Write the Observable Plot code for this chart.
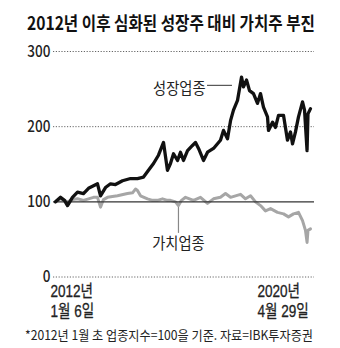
<!DOCTYPE html>
<html><head><meta charset="utf-8">
<script src="https://cdn.jsdelivr.net/npm/d3@7"></script>
<script src="https://cdn.jsdelivr.net/npm/@observablehq/plot@0.6"></script>
<style>
body{margin:0;background:#fff;width:340px;height:348px;overflow:hidden;position:relative;font-family:'Noto Sans CJK KR',sans-serif;}
#title{position:absolute;left:27px;top:13px;font-family:'Noto Sans CJK KR',sans-serif;font-weight:700;font-size:18px;line-height:18px;white-space:nowrap;transform-origin:0 50%;color:#111;}
#chart{position:absolute;left:0;top:36px;}
#note{position:absolute;left:25px;top:326px;font-size:13px;line-height:18px;white-space:nowrap;transform-origin:0 50%;color:#222;}
</style></head><body>
<div id="title">2012년 이후 심화된 성장주 대비 가치주 부진</div>
<div id="chart"></div>
<div id="note">*2012년 1월 초 업종지수=100을 기준. 자료=IBK투자증권</div>
<script>
// 성장업종 (growth sector index)
const growthDates = ["2012-01-06","2012-03-06","2012-04-22","2012-05-28","2012-07-26","2012-09-24","2012-12-04","2013-02-02","2013-05-20","2013-06-25","2013-08-23","2013-10-22","2013-12-20","2014-03-14","2014-06-17","2014-09-08","2014-11-19","2015-01-17","2015-03-18","2015-05-16","2015-07-15","2015-08-31","2015-10-06","2015-11-11","2015-12-29","2016-02-02","2016-03-09","2016-04-26","2016-06-24","2016-07-30","2016-09-04","2016-11-02","2016-12-20","2017-03-01","2017-05-23","2017-06-28","2017-08-15","2017-09-20","2017-10-25","2017-12-12","2018-01-29","2018-02-21","2018-03-29","2018-05-04","2018-06-20","2018-08-07","2018-09-12","2018-10-17","2018-12-04","2018-12-16","2019-02-02","2019-03-09","2019-04-14","2019-06-13","2019-07-30","2019-09-04","2019-09-28","2019-11-02","2019-12-08","2020-01-25","2020-02-18","2020-03-19","2020-03-30","2020-04-29"];
const growthValues = [100,106,102,95,106,113,111,118,124,108,119,124,123,128,131,131,133,142,151,162,179,142,151,164,155,166,155,168,175,179,171,155,166,171,182,195,184,208,222,235,266,253,262,248,244,231,244,226,213,195,206,199,215,215,182,193,177,193,213,233,222,168,217,224];
// 가치업종 (value sector index)
const valueDates = ["2012-01-06","2012-03-06","2012-04-22","2012-05-28","2012-07-26","2012-09-24","2012-12-04","2013-02-02","2013-04-02","2013-05-20","2013-06-25","2013-07-30","2013-09-16","2014-01-13","2014-05-12","2014-07-11","2014-08-15","2014-09-08","2014-10-14","2015-01-05","2015-03-06","2015-05-04","2015-07-03","2015-08-31","2015-10-06","2015-12-05","2016-01-09","2016-02-14","2016-04-02","2016-07-06","2016-09-27","2016-12-20","2017-03-01","2017-05-23","2017-07-22","2017-09-20","2017-11-18","2018-01-17","2018-03-17","2018-05-16","2018-07-14","2018-09-12","2018-11-10","2019-01-09","2019-04-02","2019-06-13","2019-08-11","2019-10-10","2019-12-08","2020-01-25","2020-02-29","2020-03-19","2020-03-30","2020-04-29"];
const valueValues = [100,104,102,100,103,104,102,104,106,106,93,103,106,108,111,112,117,115,108,104,102,102,104,102,102,100,95,102,106,102,106,98,104,106,111,106,108,110,104,108,100,95,88,91,86,84,80,84,86,75,62,46,62,64];
// axis ticks
const gridTicks = [0, 200, 300];
const baseLine = [100];
const yTicks = [0, 100, 200, 300];
// annotations
const startLabel = [{date: "2012-01-06", text: "2012년\n1월 6일"}];
const endLabel = [{date: "2020-04-29", text: "2020년\n4월 29일"}];
const growthLabel = [{date: "2016-11-26", value: 250, text: "성장업종"}];
const growthLeader = [{value: 255, start: "2016-12-20", end: "2017-10-13"}];
const valueLabel = [{date: "2016-01-09", value: 44, text: "가치업종"}];
const valueLeader = [{date: "2016-01-09", top: 92.5, bottom: 58}];

const P = s => new Date(s);
const growth = growthDates.map((d, i) => ({date: P(d), value: growthValues[i]}));
const value = valueDates.map((d, i) => ({date: P(d), value: valueValues[i]}));
const pd = arr => arr.map(o => ({...o, date: o.date ? P(o.date) : undefined, start: o.start ? P(o.start) : undefined, end: o.end ? P(o.end) : undefined}));

const FONT = "'Noto Sans CJK KR',sans-serif";
const DATEFONT = "'Liberation Sans','Noto Sans CJK KR',sans-serif";
const chart = Plot.plot({
  width: 340, height: 290,
  marginLeft: 55, marginRight: 30, marginTop: 15, marginBottom: 49.5,
  x: {type: "utc", axis: null},
  y: {domain: [0, 300], axis: null},
  style: {fontFamily: FONT, fontSize: "16px", color: "#222", background: "#fff", overflow: "visible"},
  marks: [
    Plot.ruleY(gridTicks, {stroke: "#666", strokeWidth: 1, strokeDasharray: "1.2,1.6", insetLeft: -2, insetRight: -4}),
    Plot.axisY(yTicks, {tickSize: 0, tickPadding: 5, fontSize: 16.5, fontWeight: 500, label: null, fill: "#222", className: "cond-axis"}),
    Plot.lineY(value, {x: "date", y: "value", stroke: "#a6a6a6", strokeWidth: 3, strokeLinejoin: "round"}),
    Plot.ruleY(baseLine, {stroke: "#333", strokeWidth: 1.3, insetLeft: -2, insetRight: -4}),
    Plot.lineY(growth, {x: "date", y: "value", stroke: "#111", strokeWidth: 3.3, strokeLinejoin: "round"}),
    Plot.ruleY(pd(growthLeader), {y: "value", x1: "start", x2: "end", stroke: "#333", strokeWidth: 1}),
    Plot.ruleX(pd(valueLeader), {x: "date", y1: "top", y2: "bottom", stroke: "#888", strokeWidth: 1.2}),
    Plot.text(pd(growthLabel), {x: "date", y: "value", text: "text", textAnchor: "end", fontSize: 15.5, fill: "#222", className: "cond-lab"}),
    Plot.text(pd(valueLabel), {x: "date", y: "value", text: "text", textAnchor: "middle", fontSize: 15.5, fill: "#222", className: "cond-lab"}),
    Plot.text(pd(startLabel), {x: "date", frameAnchor: "bottom", text: "text", textAnchor: "start", lineAnchor: "top", dx: -5, dy: 5.5, fontFamily: DATEFONT, fontSize: 16.5, lineHeight: 1.22, fill: "#222", stroke: "#222", strokeWidth: 0.3, className: "cond-date"}),
    Plot.text(pd(endLabel), {x: "date", frameAnchor: "bottom", text: "text", textAnchor: "start", lineAnchor: "top", dx: -53, dy: 5.5, fontFamily: DATEFONT, fontSize: 16.5, lineHeight: 1.22, fill: "#222", stroke: "#222", strokeWidth: 0.3, className: "cond-date"})
  ]
});
document.getElementById("chart").appendChild(chart);

// narrow the condensed-looking texts
function condense(selector, k) {
  chart.querySelectorAll(selector + " text").forEach(t => {
    const spans = t.querySelectorAll("tspan");
    const els = spans.length ? spans : [t];
    els.forEach(e => {
      const len = e.getComputedTextLength();
      if (len > 0) {
        e.setAttribute("textLength", (len * k).toFixed(2));
        e.setAttribute("lengthAdjust", "spacingAndGlyphs");
      }
    });
  });
}
condense(".cond-axis", 0.82);
condense(".cond-date", 0.82);
condense(".cond-lab", 0.92);

function fit(el, w) {
  const r = el.getBoundingClientRect().width;
  el.style.transform = `scaleX(${w / r})`;
}
fit(document.getElementById("title"), 288);
fit(document.getElementById("note"), 288);
</script>
</body></html>
